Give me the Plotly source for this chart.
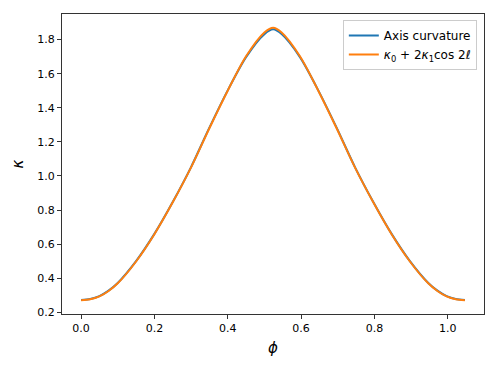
import plotly.graph_objects as go

# values
phi = [0.0, 0.025, 0.05, 0.075, 0.10, 0.15, 0.20, 0.25, 0.30, 0.35, 0.40, 0.45, 0.50, 0.524,
       0.547, 0.597, 0.647, 0.697, 0.747, 0.797, 0.847, 0.897, 0.947, 0.972, 0.997, 1.022, 1.047]
kappa_axis = [0.272, 0.278, 0.295, 0.327, 0.372, 0.500, 0.660, 0.847, 1.052, 1.283, 1.502, 1.697,
              1.832, 1.860, 1.832, 1.697, 1.502, 1.283, 1.052, 0.847, 0.660, 0.500, 0.372,
              0.327, 0.295, 0.278, 0.272]
kappa_fit = [0.270, 0.276, 0.293, 0.325, 0.370, 0.498, 0.658, 0.845, 1.050, 1.280, 1.500, 1.702,
             1.842, 1.870, 1.842, 1.702, 1.500, 1.280, 1.050, 0.845, 0.658, 0.498, 0.370,
             0.325, 0.293, 0.276, 0.270]

x_ticks = [0.0, 0.2, 0.4, 0.6, 0.8, 1.0]
y_ticks = [0.2, 0.4, 0.6, 0.8, 1.0, 1.2, 1.4, 1.6, 1.8]

fig = go.Figure()

fig.add_trace(
    go.Scatter(
        x=phi, y=kappa_axis,
        mode="lines",
        name="Axis curvature",
        line=dict(color="#1f77b4", width=2, shape="spline", smoothing=0.8),
    )
)
fig.add_trace(
    go.Scatter(
        x=phi, y=kappa_fit,
        mode="lines",
        name="<i>κ</i><sub>0</sub> + 2<i>κ</i><sub>1</sub>cos 2<i>ℓ</i>",
        line=dict(color="#ff7f0e", width=2, shape="spline", smoothing=0.8),
    )
)

axis_style = dict(
    showgrid=False,
    zeroline=False,
    showline=True,
    linecolor="#333333",
    linewidth=1,
    mirror=True,
    ticks="outside",
    ticklen=4,
    tickcolor="#333333",
    tickfont=dict(size=11, color="black"),
)

fig.update_layout(
    width=498,
    height=374,
    margin=dict(l=62, r=14, t=14, b=60),
    paper_bgcolor="white",
    plot_bgcolor="white",
    font=dict(family="DejaVu Sans", color="black"),
    xaxis=dict(
        range=[-0.052, 1.099],
        tickvals=x_ticks,
        tickformat=".1f",
        title=dict(text="<i>ϕ</i>", font=dict(size=15), standoff=8),
        **axis_style,
    ),
    yaxis=dict(
        range=[0.19, 1.95],
        tickvals=y_ticks,
        tickformat=".1f",
        title=dict(text="<i>κ</i>", font=dict(size=15), standoff=10),
        **axis_style,
    ),
    legend=dict(
        x=0.983, y=0.98,
        xanchor="right", yanchor="top",
        bgcolor="rgba(255,255,255,0.8)",
        bordercolor="#cccccc",
        borderwidth=1,
        font=dict(size=12),
        tracegroupgap=0,
    ),
)

# the page body has a default 8px margin; drop it so the figure sits at 0,0
fig.write_html(
    "out.html",
    config={"displayModeBar": False},
    post_script="document.body.style.margin='0';",
)
